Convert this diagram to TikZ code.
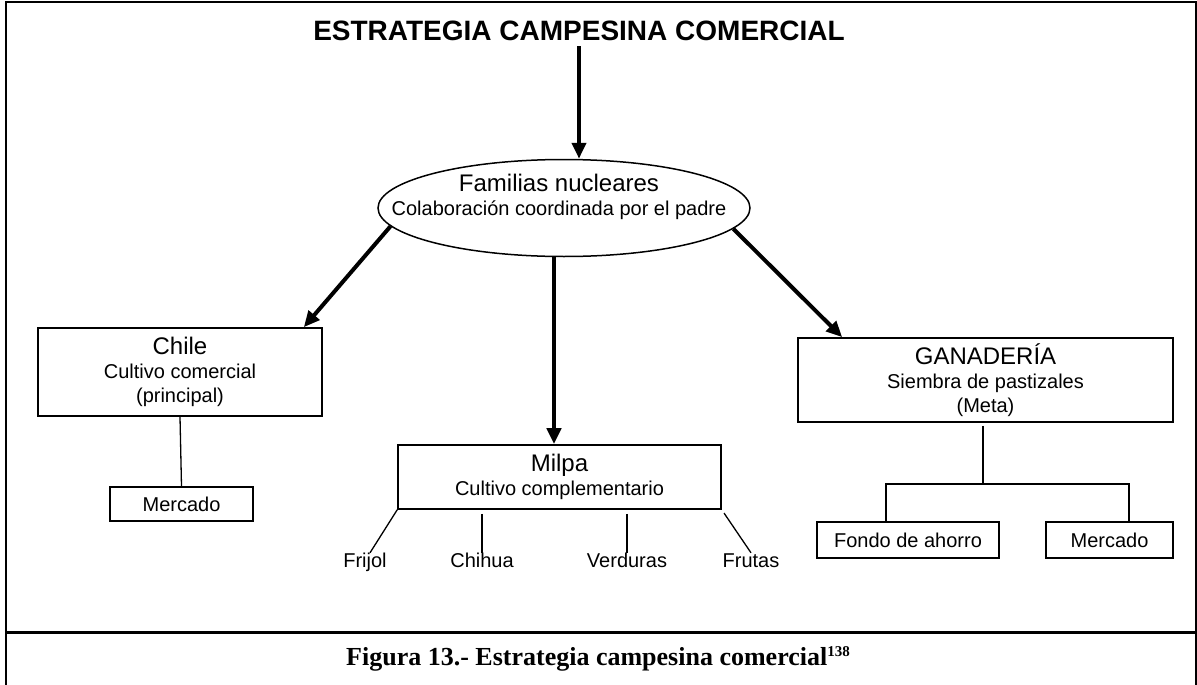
\documentclass[tikz,border=0pt]{standalone}
\usepackage{fontspec}
\setmainfont{Liberation Sans}
\newfontfamily\piefont{Liberation Serif}
\usepackage{tikz}
\usetikzlibrary{arrows.meta,shapes.geometric}

\tikzset{
  caja/.style={draw, rectangle, line width=1.6pt, inner sep=0pt, align=center, font=\fontsize{20}{24}\selectfont},
  hoja/.style={inner sep=0pt, text height=14pt, text depth=4pt, font=\fontsize{20}{24}\selectfont},
  flecha/.style={->, line width=4pt},
  rama/.style={line width=1.3pt}
}
\newcommand{\rotulo}[1]{{\fontsize{24}{28}\selectfont #1}}

\begin{document}
\begin{tikzpicture}[x=1pt,y=-1pt,>={Triangle[length=16pt,width=14pt]}]
\useasboundingbox (0,0) rectangle (1197,685);
%%%MARCO
\draw[line width=2.5pt] (6,685) -- (6,2) -- (1196,2) -- (1196,685);
\draw[line width=3pt] (6,632) -- (1197,632);
%%%NODOS
\node[font=\bfseries\fontsize{28}{32}\selectfont, inner sep=5pt] (titulo) at (579,31) {ESTRATEGIA CAMPESINA COMERCIAL};
\node[draw, ellipse, line width=1.5pt, minimum width=372pt, minimum height=97pt] (fam) at (564,208) {};
\node[align=center, font=\fontsize{20}{24}\selectfont] (famtxt) at (559,197) {\rotulo{Familias nucleares}\\Colaboración coordinada por el padre};
\node[caja, minimum width=284pt, minimum height=88pt] (chile) at (180,372) {\rotulo{Chile}\\Cultivo comercial\\(principal)};
\node[caja, minimum width=143pt, minimum height=34pt] (merc1) at (181.5,504) {Mercado};
\node[caja, minimum width=323pt, minimum height=64pt] (milpa) at (559.5,477) {\rotulo{Milpa}\\Cultivo complementario};
\node[caja, minimum width=375pt, minimum height=84pt] (ganad) at (985.5,380) {\rotulo{GANADERÍA}\\Siembra de pastizales\\(Meta)};
\node[caja, minimum width=182pt, minimum height=36pt] (fondo) at (908,540) {Fondo de ahorro};
\node[caja, minimum width=127pt, minimum height=36pt] (merc2) at (1109.5,540) {Mercado};
\node[hoja] (frijol) at (365,562) {Frijol};
\node[hoja] (chihua) at (482,562) {Chihua};
\node[hoja] (verduras) at (627,562) {Verduras};
\node[hoja] (frutas) at (751,562) {Frutas};
\node[font=\piefont\bfseries\fontsize{26}{30}\selectfont] (pie) at (598,659) {Figura 13.- Estrategia campesina comercial{\fontsize{15}{15}\selectfont\raisebox{9pt}{138}}};
\coordinate (nudo) at (983,484);
%%%FLECHAS
\draw[flecha] (titulo.south) -- (titulo.south |- fam.north);
\draw[flecha] (fam.186) -- ([xshift=-19pt]chile.north east);
\draw[flecha] ([xshift=-5.5pt]milpa.north |- fam.south) -- ([xshift=-5.5pt]milpa.north);
\draw[flecha] (fam.-7) -- ([xshift=45pt]ganad.north west);
%%%RAMAS
\draw[rama] (chile.south) -- (merc1.north);
\draw[rama] (milpa.south west) -- ([xshift=5pt]frijol.north);
\draw[rama, shorten <=4pt] (milpa.south -| chihua.north) -- (chihua.north);
\draw[rama, shorten <=4pt] (milpa.south -| verduras.north) -- (verduras.north);
\draw[rama, shorten <=4pt] (milpa.south east) -- (frutas.north);
\draw[rama, shorten <=3pt] (ganad.south -| nudo) -- (nudo);
\draw[rama] ([xshift=-22pt]fondo.north) |- (nudo) -| ([xshift=19.5pt]merc2.north);
\end{tikzpicture}
\end{document}
